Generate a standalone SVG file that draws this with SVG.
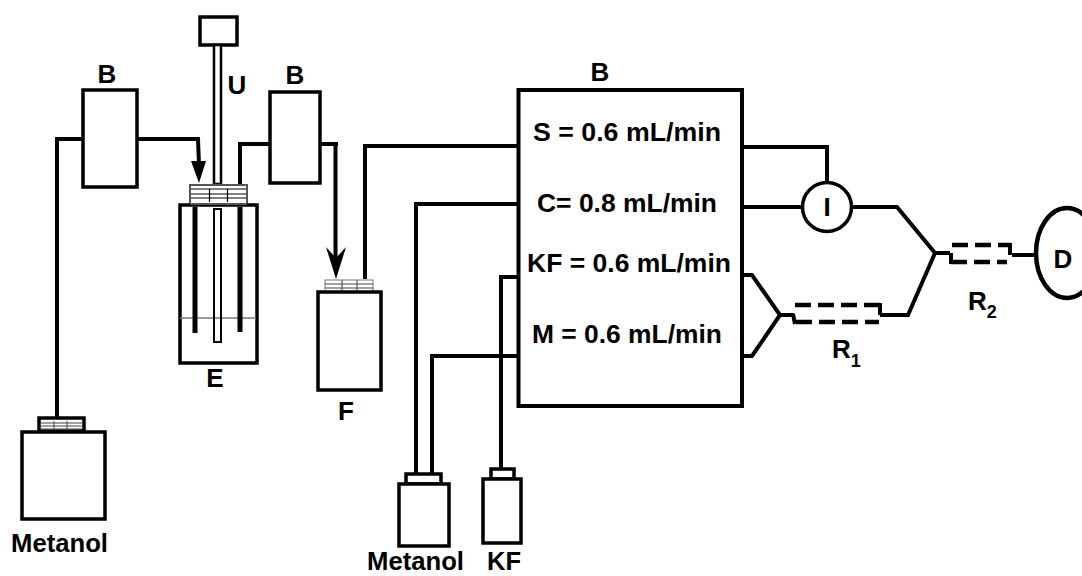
<svg xmlns="http://www.w3.org/2000/svg" width="1082" height="576" viewBox="0 0 1082 576">
<style>
text{font-family:"Liberation Sans",Arial,sans-serif;font-weight:bold;font-size:26px;fill:#000}
.s{fill:#fff;stroke:#000;stroke-width:3.5}
.w{fill:none;stroke:#000;stroke-width:4}
.d{fill:none;stroke:#000;stroke-width:4.5;stroke-dasharray:16 7}
.cap{fill:#fff;stroke:#555;stroke-width:2}
.h{fill:none;stroke:#000;stroke-width:1.2}
.hg{fill:none;stroke:#444;stroke-width:1}
.sub{font-size:18px}
</style>
<g id="connectors">
<path class="w" d="M84 139H57V418"/>
<path class="w" d="M137 139H198L199 165"/>
<path d="M191 161L206 161L199 183Z" fill="#000"/>
<path class="w" d="M269 144H240V184"/>
<path class="w" d="M320 144H338M335.500 144V262"/>
<path d="M326 247L336 258L346 247L336 279Z" fill="#000"/>
<path class="w" d="M518 146H365V279"/>
<path class="w" d="M518 204H416V474"/>
<path class="w" d="M518 356H432V474"/>
<path class="w" d="M518 277H501V468"/>
<path class="w" d="M742 147H827V184"/>
<path class="w" d="M742 207H803"/>
<path class="w" d="M853 207H897L935 253"/>
<path class="w" d="M742 275H752L780 315L752 356H742"/>
<path class="w" d="M780 315H794"/>
<path class="w" d="M880 315H908L935 253H950"/>
<path class="w" d="M1012 255H1036"/>
</g>
<g id="pump-b1"><rect class="s" x="83" y="90" width="54" height="97"/><text x="107" y="83" text-anchor="middle">B</text></g>
<g id="stirrer-u">
<rect class="s" x="200" y="17" width="37" height="28"/>
<rect x="214" y="45" width="7" height="139" fill="#fff" stroke="#000" stroke-width="2.500"/>
<text x="237" y="94" text-anchor="middle">U</text></g>
<g id="pump-b2"><rect class="s" x="270" y="92" width="50" height="91"/><text x="295" y="84" text-anchor="middle">B</text></g>
<g id="vessel-e">
<rect class="cap" x="190" y="185" width="57" height="19"/>
<path class="h" d="M191 189H246M191 194H246M191 198H246M209.500 189V202M227.500 189V202"/>
<rect class="s" x="180" y="205" width="77" height="158"/>
<path d="M190 204H247" stroke="#555" stroke-width="2"/>
<path d="M180 318H256" stroke="#777" stroke-width="1.500"/>
<path d="M195 207V333M240 207V332" stroke="#000" stroke-width="5" fill="none"/>
<rect x="214" y="209" width="7" height="133" fill="none" stroke="#000" stroke-width="2"/>
<text x="215" y="387" text-anchor="middle">E</text></g>
<g id="vessel-f">
<rect x="325" y="280" width="48" height="12" fill="#fff" stroke="#777" stroke-width="1"/>
<path class="hg" d="M325 284H373M325 288H373M342 280V292M357 280V292"/>
<rect class="s" x="318" y="292" width="63" height="98"/>
<text x="346" y="420" text-anchor="middle">F</text></g>
<g id="bottle-metanol-1">
<rect class="s" x="39" y="418" width="45" height="13"/>
<path class="hg" d="M41 423H82M41 426H82M41 429H82M54 421V430M67 421V430"/>
<rect class="s" x="22" y="432" width="83" height="87"/>
<text x="11" y="552" textLength="97" lengthAdjust="spacingAndGlyphs">Metanol</text></g>
<g id="bottle-metanol-2">
<rect class="s" x="406" y="474" width="35" height="10"/>
<rect class="s" x="399" y="484" width="50" height="62"/>
<text x="367" y="570" textLength="97" lengthAdjust="spacingAndGlyphs">Metanol</text></g>
<g id="bottle-kf">
<rect class="s" x="491" y="469" width="23" height="10"/>
<rect class="s" x="483" y="479" width="38" height="64"/>
<text x="487" y="570" textLength="34" lengthAdjust="spacingAndGlyphs">KF</text></g>
<g id="pump-b3">
<rect class="s" x="518.500" y="90" width="223.500" height="316" style="stroke-width:4"/>
<text x="600" y="81" text-anchor="middle">B</text>
<text x="533" y="141" textLength="188" lengthAdjust="spacingAndGlyphs">S = 0.6 mL/min</text>
<text x="537" y="212" textLength="180" lengthAdjust="spacingAndGlyphs">C= 0.8 mL/min</text>
<text x="527" y="272" textLength="204" lengthAdjust="spacingAndGlyphs">KF = 0.6 mL/min</text>
<text x="532" y="343" textLength="190" lengthAdjust="spacingAndGlyphs">M = 0.6 mL/min</text></g>
<g id="injector-i"><circle class="s" cx="827" cy="207" r="24.500"/><text x="827" y="216" text-anchor="middle">I</text></g>
<g id="column-r1">
<path class="d" d="M795 305H880"/><path class="d" d="M796 322H879"/>
<path class="w" d="M793 314L795 324M880 303V315"/>
<text x="832" y="358">R<tspan class="sub" dy="9">1</tspan></text></g>
<g id="column-r2">
<path class="d" d="M952 245H1011"/><path class="d" d="M951 262H1007"/>
<path class="w" d="M951 253V264M1010 243V255"/>
<text x="968" y="310">R<tspan class="sub" dy="8">2</tspan></text></g>
<g id="detector-d">
<ellipse class="s" cx="1067" cy="253" rx="31" ry="45" style="stroke-width:4.500"/>
<text x="1063" y="268" text-anchor="middle">D</text></g>
</svg>
